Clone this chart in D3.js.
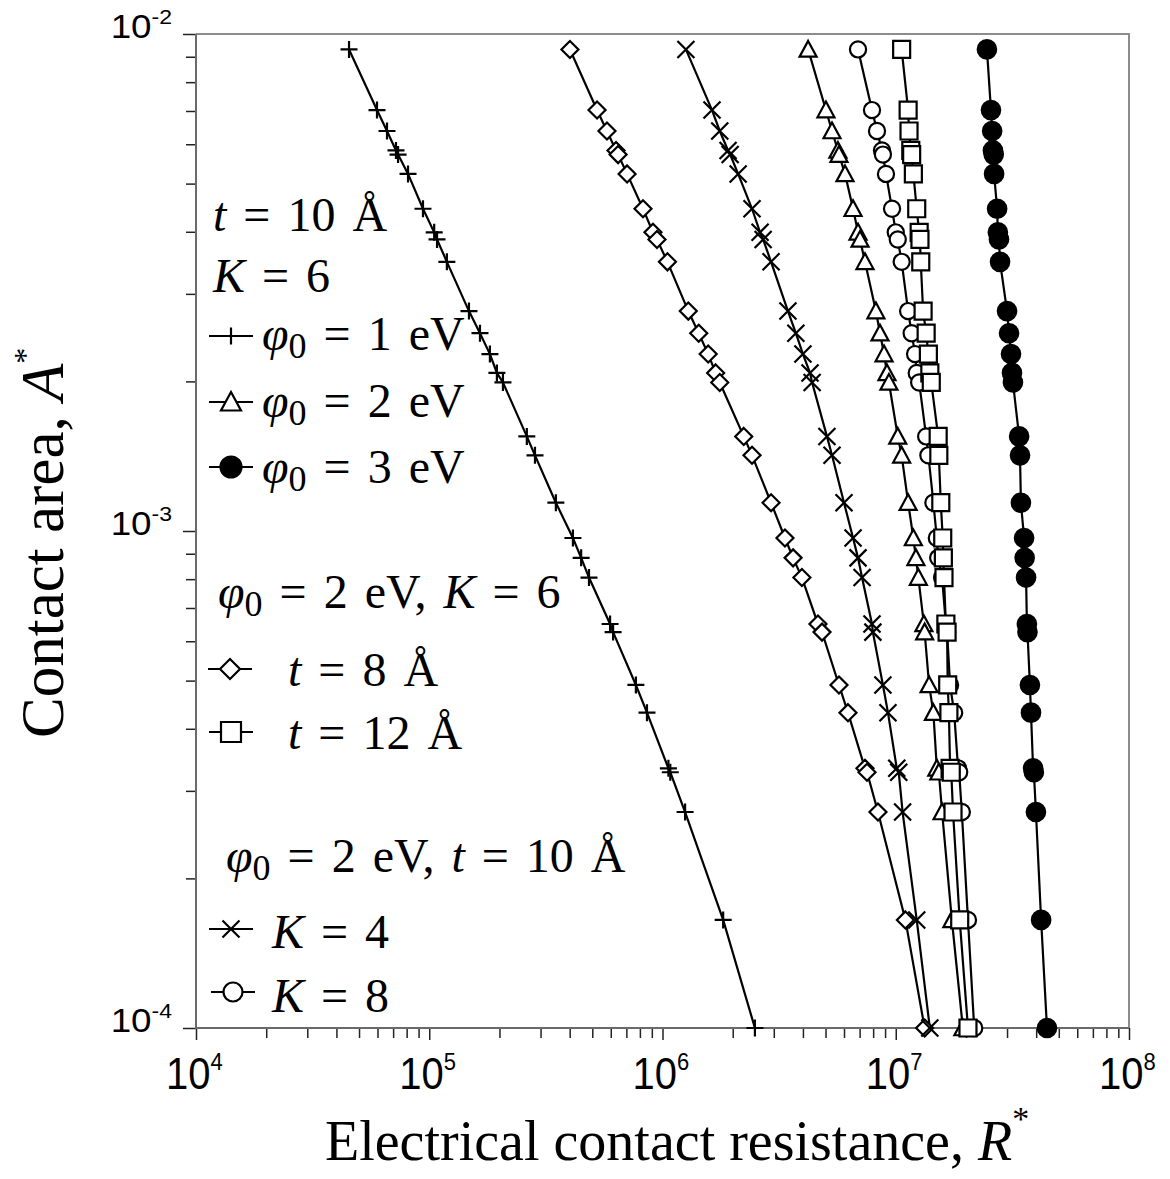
<!DOCTYPE html>
<html>
<head>
<meta charset="utf-8">
<script src="https://cdn.jsdelivr.net/npm/d3@7"></script>
<style>
  body { margin: 0; background: #fff; }
  text { white-space: pre; }
</style>
</head>
<body>
<div id="chart"></div>
<script>
// Contact area A* against electrical contact resistance R*, log-log

// contact area levels shared by all curves (top to bottom)
var areaA = [0.00931, 0.00703, 0.00638, 0.00583, 0.00572, 0.00523, 0.00445, 0.00399, 0.00386, 0.00348,
             0.00277, 0.00250, 0.00227, 0.00208, 0.00199, 0.00155, 0.00142, 0.00114, 0.000968, 0.000883,
             0.000806, 0.000650, 0.000626, 0.000490, 0.000431, 0.000333, 0.000327, 0.000272, 0.000165, 0.0001];

// resistance for each curve, same order as areaA
var rPhi1 = [4.53e4, 5.97e4, 6.59e4, 7.20e4, 7.35e4, 8.11e4, 9.40e4, 1.05e5, 1.08e5, 1.19e5,
             1.48e5, 1.65e5, 1.82e5, 1.95e5, 2.07e5, 2.62e5, 2.84e5, 3.49e5, 4.13e5, 4.48e5,
             4.84e5, 5.96e5, 6.14e5, 7.69e5, 8.58e5, 1.06e6, 1.08e6, 1.25e6, 1.82e6, 2.49e6];
var rPhi2 = [4.21e6, 5.02e6, 5.33e6, 5.65e6, 5.71e6, 6.06e6, 6.56e6, 6.89e6, 7.03e6, 7.38e6,
             8.22e6, 8.56e6, 8.91e6, 9.17e6, 9.35e6, 1.02e7, 1.06e7, 1.13e7, 1.19e7, 1.22e7,
             1.25e7, 1.32e7, 1.33e7, 1.39e7, 1.45e7, 1.50e7, 1.53e7, 1.58e7, 1.74e7, 1.94e7];
var rPhi3 = [2.46e7, 2.56e7, 2.59e7, 2.61e7, 2.63e7, 2.64e7, 2.72e7, 2.74e7, 2.77e7, 2.80e7,
             3.00e7, 3.06e7, 3.12e7, 3.15e7, 3.18e7, 3.38e7, 3.41e7, 3.44e7, 3.55e7, 3.57e7,
             3.62e7, 3.65e7, 3.67e7, 3.76e7, 3.80e7, 3.88e7, 3.91e7, 3.99e7, 4.20e7, 4.45e7];
var rT8 = [4.01e5, 5.24e5, 5.78e5, 6.32e5, 6.45e5, 7.05e5, 8.25e5, 9.10e5, 9.47e5, 1.05e6,
           1.29e6, 1.43e6, 1.57e6, 1.69e6, 1.76e6, 2.23e6, 2.42e6, 2.92e6, 3.35e6, 3.63e6,
           3.96e6, 4.64e6, 4.83e6, 5.71e6, 6.24e6, 7.38e6, 7.53e6, 8.39e6, 1.10e7, 1.33e7];
var rT12 = [1.06e7, 1.13e7, 1.14e7, 1.16e7, 1.17e7, 1.19e7, 1.23e7, 1.26e7, 1.27e7, 1.28e7,
            1.31e7, 1.35e7, 1.38e7, 1.40e7, 1.42e7, 1.52e7, 1.53e7, 1.56e7, 1.59e7, 1.60e7,
            1.61e7, 1.64e7, 1.66e7, 1.67e7, 1.69e7, 1.71e7, 1.73e7, 1.76e7, 1.88e7, 2.04e7];
var rK4 = [1.26e6, 1.63e6, 1.76e6, 1.91e6, 1.95e6, 2.11e6, 2.42e6, 2.62e6, 2.70e6, 2.92e6,
           3.45e6, 3.73e6, 4.00e6, 4.29e6, 4.38e6, 5.07e6, 5.33e6, 6.00e6, 6.56e6, 6.89e6,
           7.17e6, 7.91e6, 7.98e6, 8.81e6, 9.26e6, 1.01e7, 1.03e7, 1.07e7, 1.23e7, 1.40e7];
var rK8 = [6.89e6, 7.91e6, 8.31e6, 8.73e6, 8.81e6, 9.08e6, 9.64e6, 1.00e7, 1.02e7, 1.06e7,
           1.13e7, 1.17e7, 1.21e7, 1.23e7, 1.26e7, 1.35e7, 1.38e7, 1.45e7, 1.50e7, 1.52e7,
           1.58e7, 1.64e7, 1.66e7, 1.71e7, 1.78e7, 1.85e7, 1.87e7, 1.92e7, 2.04e7, 2.17e7];

var xTickExp = [4, 5, 6, 7, 8];
var yTickExp = [-2, -3, -4];

var series = [
    {r: rPhi1, mark: "plus"},
    {r: rT8,   mark: "diamond"},
    {r: rK4,   mark: "x"},
    {r: rPhi2, mark: "triangle"},
    {r: rK8,   mark: "circle"},
    {r: rT12,  mark: "square"},
    {r: rPhi3, mark: "dot"}
];

var width = 1170, height = 1179;
var plot = {left: 196, right: 1129, top: 34, bottom: 1028};

var serif = "'Liberation Serif','Times New Roman',Times,serif";
var sans = "'Liberation Sans',Arial,Helvetica,sans-serif";

var svg = d3.select("#chart").append("svg")
    .attr("width", width)
    .attr("height", height);

var x = d3.scaleLog().domain([1e4, 1e8]).range([plot.left, plot.right]);
var y = d3.scaleLog().domain([1e-4, 1e-2]).range([plot.bottom, plot.top]);

// marker outlines, s = half size
function markPath(type, s) {
    if (type == "plus") return "M" + (-s) + ",0H" + s + "M0," + (-s) + "V" + s;
    if (type == "x") return "M" + (-s) + "," + (-s) + "L" + s + "," + s + "M" + (-s) + "," + s + "L" + s + "," + (-s);
    if (type == "diamond") return "M0," + (-s) + "L" + s + ",0L0," + s + "L" + (-s) + ",0Z";
    if (type == "triangle") return "M0," + (-s) + "L" + s + "," + (s * 0.85) + "L" + (-s) + "," + (s * 0.85) + "Z";
    if (type == "square") return "M" + (-s) + "," + (-s) + "H" + s + "V" + s + "H" + (-s) + "Z";
    var r = type == "dot" ? s * 1.05 : s * 0.95;
    return "M" + (-r) + ",0A" + r + "," + r + " 0 1,0 " + r + ",0A" + r + "," + r + " 0 1,0 " + (-r) + ",0Z";
}

function drawMark(g, type, cx, cy, s) {
    g.append("path")
        .attr("d", markPath(type, s))
        .attr("transform", "translate(" + cx + "," + cy + ")")
        .attr("fill", type == "dot" ? "#000" : (type == "plus" || type == "x") ? "none" : "#fff")
        .attr("stroke", "#000")
        .attr("stroke-width", 2.2);
}

// ---- axes ----
var minorX = [], minorY = [];
for (var e = 4; e < 8; e++) for (var m = 2; m < 10; m++) minorX.push(m * Math.pow(10, e));
for (var e = -4; e < -2; e++) for (var m = 2; m < 10; m++) minorY.push(m * Math.pow(10, e));

var axisG = svg.append("g");

axisG.append("g")
    .attr("transform", "translate(0," + plot.bottom + ")")
    .call(d3.axisBottom(x).tickValues(minorX).tickSize(10).tickFormat(""));
axisG.append("g")
    .attr("transform", "translate(0," + plot.bottom + ")")
    .call(d3.axisBottom(x).tickValues(xTickExp.map(function(d) { return Math.pow(10, d); })).tickSize(12).tickFormat(""));
axisG.append("g")
    .attr("transform", "translate(" + plot.left + ",0)")
    .call(d3.axisLeft(y).tickValues(minorY).tickSize(10).tickFormat(""));
axisG.append("g")
    .attr("transform", "translate(" + plot.left + ",0)")
    .call(d3.axisLeft(y).tickValues(yTickExp.map(function(d) { return Math.pow(10, d); })).tickSize(13).tickFormat(""));

axisG.selectAll(".domain").remove();
axisG.selectAll(".tick line").attr("stroke", "#222").attr("stroke-width", 1.5);

// frame
svg.append("path")
    .attr("d", "M" + plot.left + "," + plot.top + "H" + plot.right + "V" + plot.bottom)
    .attr("fill", "none").attr("stroke", "#8c8c8c").attr("stroke-width", 2);
svg.append("path")
    .attr("d", "M" + plot.left + "," + plot.top + "V" + plot.bottom + "H" + plot.right)
    .attr("fill", "none").attr("stroke", "#6a6a6a").attr("stroke-width", 2);

// tick labels
xTickExp.forEach(function(p) {
    var t = svg.append("text")
        .attr("transform", "translate(" + (x(Math.pow(10, p)) - 30) + ",1089) scale(1,1.12)")
        .attr("font-family", sans)
        .attr("font-size", 40);
    t.append("tspan").text("10");
    t.append("tspan").text(p).attr("dy", -17).attr("font-size", 22);
});
yTickExp.forEach(function(p) {
    var t = svg.append("text")
        .attr("transform", "translate(172," + (y(Math.pow(10, p)) + 4) + ") scale(1.15,1.05)")
        .attr("text-anchor", "end")
        .attr("font-family", sans)
        .attr("font-size", 32);
    t.append("tspan").text("10");
    t.append("tspan").text("-" + (-p)).attr("dy", -13).attr("font-size", 20);
});

// axis titles
var xt = svg.append("text")
    .attr("x", 325).attr("y", 1160)
    .attr("font-family", serif).attr("font-size", 56);
xt.append("tspan").text("Electrical contact resistance, ");
xt.append("tspan").text("R").attr("font-style", "italic");
xt.append("tspan").text("*").attr("dy", -30).attr("font-size", 34);

var yt = svg.append("text")
    .attr("transform", "translate(63,738) rotate(-90)")
    .attr("font-family", serif).attr("font-size", 61);
yt.append("tspan").text("Contact area, ");
yt.append("tspan").text("A").attr("font-style", "italic");
yt.append("tspan").text("*").attr("dy", -27).attr("font-size", 32);

// ---- curves ----
var line = d3.line()
    .x(function(d) { return x(d[0]); })
    .y(function(d) { return y(d[1]); });

var curveG = svg.append("g");
series.forEach(function(s) {
    var pts = s.r.map(function(r, i) { return [r, areaA[i]]; });
    curveG.append("path")
        .attr("d", line(pts))
        .attr("fill", "none")
        .attr("stroke", "#000")
        .attr("stroke-width", 2.2);
});
series.forEach(function(s) {
    s.r.forEach(function(r, i) {
        drawMark(curveG, s.mark, x(r), y(areaA[i]), s.mark == "dot" ? 8.8 : 8.5);
    });
});

// ---- legend ----
function richText(px, py, parts) {
    var t = svg.append("text")
        .attr("x", px).attr("y", py)
        .attr("font-family", serif)
        .attr("font-size", 48)
        .attr("word-spacing", 5);
    var shift = 0;
    parts.forEach(function(p) {
        var s = t.append("tspan").text(p[0]);
        var want = p[1] == "sub" ? 8 : 0;
        if (want != shift) { s.attr("dy", want - shift); shift = want; }
        if (p[1] == "i") s.attr("font-style", "italic");
        if (p[1] == "sub") s.attr("font-size", 36);
    });
}

function legendKey(type, cx, cy) {
    svg.append("line")
        .attr("x1", cx - 22).attr("x2", cx + 22)
        .attr("y1", cy).attr("y2", cy)
        .attr("stroke", "#000").attr("stroke-width", 2.2);
    drawMark(svg, type, cx, cy, type == "plus" || type == "x" ? 8.5 : 10);
}

var phi = [["\u03c6", "i"], ["0", "sub"]];

richText(213, 231, [["t", "i"], [" = 10 \u00c5"]]);
richText(213, 292, [["K", "i"], [" = 6"]]);
legendKey("plus", 231, 336);
richText(262, 350, phi.concat([[" = 1 eV"]]));
legendKey("triangle", 231, 402);
richText(262, 417, phi.concat([[" = 2 eV"]]));
legendKey("dot", 231, 467);
richText(262, 483, phi.concat([[" = 3 eV"]]));

richText(218, 608, phi.concat([[" = 2 eV, "], ["K", "i"], [" = 6"]]));
legendKey("diamond", 230, 669);
richText(288, 686, [["t", "i"], [" = 8 \u00c5"]]);
legendKey("square", 231, 732);
richText(288, 749, [["t", "i"], [" = 12 \u00c5"]]);

richText(226, 872, phi.concat([[" = 2 eV, "], ["t", "i"], [" = 10 \u00c5"]]));
legendKey("x", 231, 929);
richText(272, 948, [["K", "i"], [" = 4"]]);
legendKey("circle", 233, 992);
richText(272, 1012, [["K", "i"], [" = 8"]]);
</script>
</body>
</html>
